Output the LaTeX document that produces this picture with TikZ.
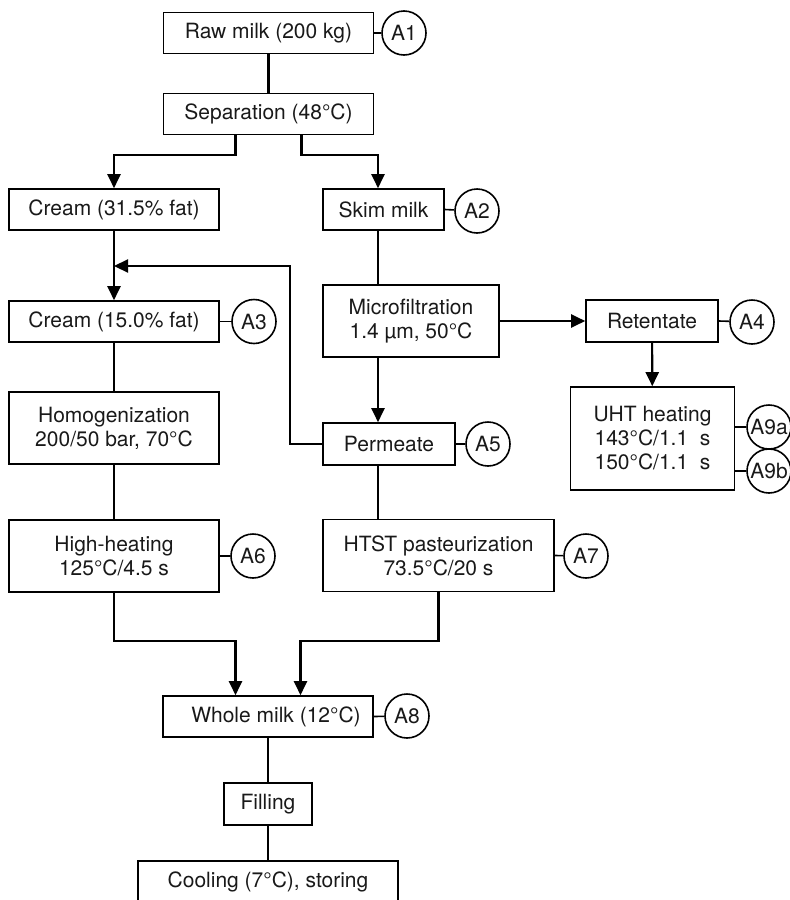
\documentclass[tikz,border=0pt]{standalone}
\usepackage{fontspec}
\setmainfont{TeX Gyre Heros}
\usetikzlibrary{arrows.meta,positioning,calc}

\tikzset{
  stagebox/.style={draw, line width=0.8pt, inner sep=1pt, align=center,
    minimum width=105pt, minimum height=20.5pt},
  tag/.style={draw, circle, line width=0.8pt, inner sep=0pt, minimum size=22pt},
  flow/.style={line width=1.1pt, -{Triangle[length=7pt,width=6.5pt]}},
  link/.style={line width=1.1pt},
  taglink/.style={line width=0.8pt}
}

\begin{document}
\begin{tikzpicture}[x=0.5pt, y=-0.5pt,
    every node/.style={font=\fontsize{10.5}{12}\selectfont, text=black!90}]
            \useasboundingbox (0,0) rectangle (790,900);
            \clip (0,0) rectangle (790,900);

            % Main stages
            \node[stagebox] (raw) at (268.5,33) {Raw milk (200 kg)};
            \node[stagebox] (sep) at (268.5,114) {Separation (48\textdegree C)};
            \node[stagebox] (cream1) at (114,209.5) {Cream (31.5\% fat)};
            \node[stagebox, minimum width=60.5pt] (skim) at (383.5,209.5) {Skim milk};
            \node[stagebox] (cream2) at (114,321.5) {Cream (15.0\% fat)};
            \node[stagebox, minimum width=88pt, minimum height=36pt] (micro) at (411,321) {Microfiltration\\1.4 µm, 50\textdegree C};
            \node[stagebox, minimum width=66pt, minimum height=21pt] (ret) at (652,321) {Retentate};
            \node[stagebox, minimum height=36pt] (homog) at (114,428) {Homogenization\\200/50 bar, 70\textdegree C};
            \node[stagebox, minimum width=66pt, minimum height=21pt] (perm) at (389,444) {Permeate};
            \node[stagebox, minimum width=82pt, minimum height=51.5pt] (uht) at (652.5,438.5) {UHT heating\\143\textdegree C/1.1~~s\\150\textdegree C/1.1~~s};
            \node[stagebox, minimum height=36pt] (high) at (114,556) {High-heating\\125\textdegree C/4.5 s};
            \node[stagebox, minimum width=115.5pt, minimum height=36pt] (htst) at (438.5,555.5) {HTST pasteurization\\73.5\textdegree C/20 s};
            \node[stagebox] (whole) at (268,716.5) {\hspace{8pt}Whole milk (12\textdegree C)};
            \node[stagebox, minimum width=44pt, minimum height=21pt] (fill) at (268,804) {Filling};
            \node[stagebox, minimum width=130pt, minimum height=21pt] (cool) at (268,882) {Cooling (7\textdegree C), storing};

            % Sampling points
            \node[tag] (a1) at (404,33) {A1};
            \node[tag] (a2) at (477,211) {A2};
            \node[tag] (a3) at (254,321.5) {A3};
            \node[tag] (a4) at (752,322) {A4};
            \node[tag] (a5) at (488,444) {A5};
            \node[tag] (a6) at (253,556) {A6};
            \node[tag] (a7) at (586,556) {A7};
            \node[tag] (a8) at (407,716) {A8};
            \node[tag] (a9a) at (769,427) {A9a};
            \node[tag] (a9b) at (769,471) {A9b};

            \foreach \st/\tg in {raw/a1, skim/a2, cream2/a3, ret/a4, perm/a5, high/a6, htst/a7, whole/a8}
              \draw[taglink] (\st.east) -- (\tg);
            \draw[taglink] (uht.east |- a9a) -- (a9a);
            \draw[taglink] (uht.east |- a9b) -- (a9b);

            % Flow lines
            \coordinate (colR) at (378,0);
            \coordinate (fb) at (290,266);
            \coordinate (mrg) at (0,641);
            \draw[link] (raw) -- (sep);
            \draw[flow] ([xshift=-16.5pt]sep.south) -- ++(0,20) -| (cream1.north);
            \draw[flow] ([xshift=16.5pt]sep.south) -- ++(0,20) -| (skim.north -| colR);
            \draw[flow] (cream1) -- (cream2);
            \draw[link] (cream2) -- (homog);
            \draw[link] (homog) -- (high);
            \draw[link] (skim.south -| colR) -- (micro.north -| colR);
            \draw[flow] (micro.south -| colR) -- (perm.north -| colR);
            \draw[flow] (micro.east |- ret) -- (ret.west);
            \draw[flow] (ret) -- (uht);
            \draw[flow] (perm.west) -| (fb) -- (fb -| cream1.south);
            \draw[link] (perm.south -| colR) -- (htst.north -| colR);
            \draw[flow] (high.south) -- (high.south |- mrg) -| ([xshift=-16.25pt]whole.north);
            \draw[flow] (htst.south) -- (htst.south |- mrg) -| ([xshift=16.25pt]whole.north);
            \draw[link] (whole) -- (fill);
            \draw[link] (fill) -- (cool);

        \end{tikzpicture}
\end{document}
